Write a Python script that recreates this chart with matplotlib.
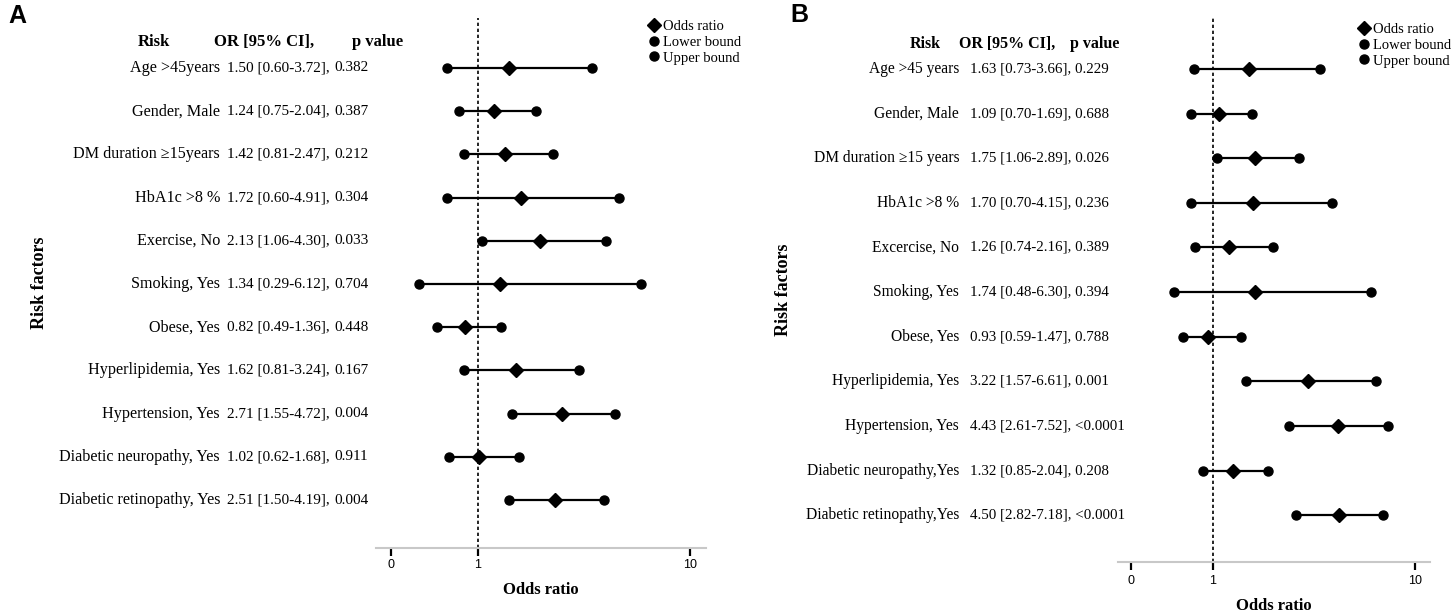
import matplotlib
matplotlib.use("Agg")
import matplotlib.pyplot as plt
import matplotlib.transforms as mtransforms
from matplotlib.lines import Line2D

W, H = 1451, 613
SERIF = ['Liberation Serif', 'DejaVu Serif']
SANS = ['Liberation Sans', 'DejaVu Sans']

# panel A
risk_a = ["Age >45years", "Gender, Male", "DM duration \u226515years", "HbA1c >8 %",
          "Exercise, No", "Smoking, Yes", "Obese, Yes", "Hyperlipidemia, Yes",
          "Hypertension, Yes", "Diabetic neuropathy, Yes", "Diabetic retinopathy, Yes"]
or_a = [1.50, 1.24, 1.42, 1.72, 2.13, 1.34, 0.82, 1.62, 2.71, 1.02, 2.51]
lo_a = [0.60, 0.75, 0.81, 0.60, 1.06, 0.29, 0.49, 0.81, 1.55, 0.62, 1.50]
hi_a = [3.72, 2.04, 2.47, 4.91, 4.30, 6.12, 1.36, 3.24, 4.72, 1.68, 4.19]
p_a = ["0.382", "0.387", "0.212", "0.304", "0.033", "0.704", "0.448", "0.167",
       "0.004", "0.911", "0.004"]

# panel B
risk_b = ["Age >45 years", "Gender, Male", "DM duration \u226515 years", "HbA1c >8 %",
          "Excercise, No", "Smoking, Yes", "Obese, Yes", "Hyperlipidemia, Yes",
          "Hypertension, Yes", "Diabetic neuropathy,Yes", "Diabetic retinopathy,Yes"]
or_b = [1.63, 1.09, 1.75, 1.70, 1.26, 1.74, 0.93, 3.22, 4.43, 1.32, 4.50]
lo_b = [0.73, 0.70, 1.06, 0.70, 0.74, 0.48, 0.59, 1.57, 2.61, 0.85, 2.82]
hi_b = [3.66, 1.69, 2.89, 4.15, 2.16, 6.30, 1.47, 6.61, 7.52, 2.04, 7.18]
p_b = ["0.229", "0.688", "0.026", "0.236", "0.389", "0.394", "0.788", "0.001",
       "<0.0001", "0.208", "<0.0001"]

x_ticks = [0, 1, 10]
legend_labels = ["Odds ratio", "Lower bound", "Upper bound"]

fig = plt.figure(figsize=(W / 100, H / 100), dpi=100)


def px_ax(x0, y0, x1, y1):
    return fig.add_axes([x0 / W, 1 - y1 / H, (x1 - x0) / W, (y1 - y0) / H])


def panel(ax, risk, orv, lo, hi, pv, cfg):
    n = len(risk)
    rows = list(range(n))
    for i in rows:
        ax.plot([lo[i], hi[i]], [i, i], color='black', lw=1.6, zorder=2)
    ax.plot(lo, rows, 'o', color='black', ms=6.5, zorder=3)
    ax.plot(hi, rows, 'o', color='black', ms=6.5, zorder=3)
    ax.plot(orv, rows, 'D', color='black', ms=7, zorder=4)
    ax.axvline(1, color='black', lw=1.2, ls=(0, (2, 1.6)), zorder=1)

    # asinh axis: near-linear below 1, log-like above
    ax.set_xscale('asinh', linear_width=cfg['lw'])
    ax.set_xlim(cfg['xlim'])
    ax.set_ylim(cfg['ylim'])
    ax.set_xticks(x_ticks)
    ax.set_xticklabels([str(t) for t in x_ticks], fontfamily=SANS, fontsize=cfg['tick_fs'])
    ax.xaxis.set_minor_locator(matplotlib.ticker.NullLocator())
    ax.set_yticks([])
    for s in ['left', 'top', 'right']:
        ax.spines[s].set_visible(False)
    ax.spines['bottom'].set_color('#c8c8c8')
    ax.spines['bottom'].set_linewidth(1.5)
    ax.tick_params(axis='x', color='black', width=1.6, length=6, pad=cfg['pad'])

    tr = mtransforms.blended_transform_factory(fig.transFigure, ax.transData)
    fs, fn = cfg['fs'], cfg['fs_num']
    for i in rows:
        ax.text(cfg['x_lab'] / W, i, risk[i], transform=tr, ha='right', va='center',
                fontfamily=SERIF, fontsize=fs)
        txt = "%.2f [%.2f-%.2f]," % (orv[i], lo[i], hi[i])
        if cfg['x_p'] is None:
            ax.text(cfg['x_or'] / W, i, txt + " " + pv[i], transform=tr, ha='left',
                    va='center', fontfamily=SERIF, fontsize=fn)
        else:
            ax.text(cfg['x_or'] / W, i, txt, transform=tr, ha='left', va='center',
                    fontfamily=SERIF, fontsize=fn)
            ax.text(cfg['x_p'] / W, i, pv[i], transform=tr, ha='left', va='center',
                    fontfamily=SERIF, fontsize=fn)
    hy = cfg['head_y']
    for x, s in zip(cfg['head_x'], ["Risk", "OR [95% CI],", "p value"]):
        ax.text(x / W, hy, s, transform=tr, ha='left', va='center', fontfamily=SERIF,
                fontsize=cfg['fs_head'], fontweight='bold')

    fig.text(cfg['xl'][0] / W, 1 - cfg['xl'][1] / H, "Odds ratio", ha='center', va='center',
             fontfamily=SERIF, fontsize=12, fontweight='bold')
    fig.text(cfg['yl'][0] / W, 1 - cfg['yl'][1] / H, "Risk factors", ha='center', va='center',
             rotation=90, fontfamily=SERIF, fontsize=13, fontweight='bold')
    fig.text(cfg['tag'][0] / W, 1 - cfg['tag'][1] / H, cfg['tag'][2], ha='left', va='center',
             fontfamily=SANS, fontsize=18, fontweight='bold')

    handles = [Line2D([], [], ls='none', marker='D', color='black', ms=7.5),
               Line2D([], [], ls='none', marker='o', color='black', ms=6.5),
               Line2D([], [], ls='none', marker='o', color='black', ms=6.5)]
    fig.legend(handles, legend_labels, loc='upper left',
               bbox_to_anchor=(cfg['leg'][0] / W, 1 - cfg['leg'][1] / H),
               frameon=False, handlelength=0.7, handletextpad=0.25, borderpad=0,
               borderaxespad=0, labelspacing=0.17, prop={'family': SERIF, 'size': 10.5})


ax_a = px_ax(376, 18, 706, 548)
panel(ax_a, risk_a, or_a, lo_a, hi_a, p_a, dict(
    lw=1.02, xlim=(-0.152, 11.74), ylim=(11.11, -1.157), tick_fs=9, pad=2,
    fs=11.6, fs_num=11, fs_head=12,
    x_lab=220, x_or=227, x_p=334, head_y=-0.6, head_x=(138, 214, 352),
    xl=(541, 590), yl=(40, 283), tag=(8, 16, "A"), leg=(649, 20)))

ax_b = px_ax(1118, 18, 1430, 562)
panel(ax_b, risk_b, or_b, lo_b, hi_b, p_b, dict(
    lw=1.04, xlim=(-0.141, 11.70), ylim=(11.05, -1.143), tick_fs=9, pad=3,
    fs=11.2, fs_num=10.8, fs_head=11.5,
    x_lab=959, x_or=970, x_p=None, head_y=-0.56, head_x=(910, 959, 1070),
    xl=(1274, 606), yl=(783, 290), tag=(790, 15, "B"), leg=(1359, 23)))

fig.savefig("out.png", dpi=100)
